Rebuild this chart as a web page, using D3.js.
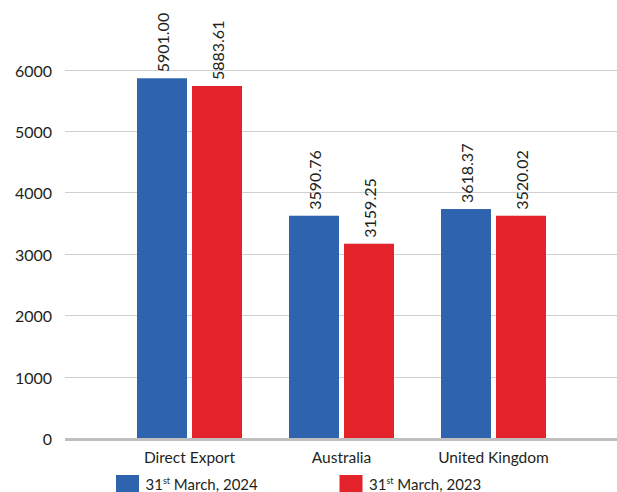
<!DOCTYPE html>
<html>
<head>
<meta charset="utf-8">
<script src="https://cdn.jsdelivr.net/npm/d3@7"></script>
<style>
  html, body { margin: 0; padding: 0; background: #fff; }
  svg { display: block; }
  text { font-family: Lato, "Open Sans", sans-serif; fill: #231f20; }
</style>
</head>
<body>
<svg id="chart" width="617" height="492"></svg>
<script>
// ---- data ----
const categories = ["Direct Export", "Australia", "United Kingdom"];
const seriesNames = ["31st March, 2024", "31st March, 2023"];
const values2024 = [5857, 3619, 3728];
const values2023 = [5731, 3163, 3619];
const labels2024 = ["5901.00", "3590.76", "3618.37"];
const labels2023 = ["5883.61", "3159.25", "3520.02"];
const yTicks = [0, 1000, 2000, 3000, 4000, 5000, 6000];
const colors = ["#2e64ad", "#e32229"];

const svg = d3.select("#chart");

const x0 = d3.scaleBand().domain(categories)
  .range([113.5, 569.5]).paddingInner(47 / 152).paddingOuter(47 / 304);
const x1 = d3.scaleBand().domain([0, 1])
  .range([0, x0.bandwidth()]).paddingInner(5 / 55);
const y = d3.scaleLinear().domain([0, 6000]).range([438, 69.5]);

// gridlines
svg.append("g").selectAll("line")
  .data(yTicks.filter(d => d > 0))
  .join("line")
  .attr("x1", 65).attr("x2", 617)
  .attr("y1", d => Math.round(y(d)) + 0.5).attr("y2", d => Math.round(y(d)) + 0.5)
  .attr("stroke", "#cfcfcf").attr("stroke-width", 1);

// y tick labels
svg.append("g").selectAll("text")
  .data(yTicks)
  .join("text")
  .attr("x", 52).attr("y", d => y(d) + 1.5)
  .attr("dy", "0.35em")
  .attr("text-anchor", "end")
  .attr("font-size", 16)
  .text(d => d);

const rows = categories.map((c, i) => ({
  cat: c,
  vals: [values2024[i], values2023[i]],
  labs: [labels2024[i], labels2023[i]]
}));

const groups = svg.append("g").selectAll("g")
  .data(rows).join("g")
  .attr("transform", d => `translate(${x0(d.cat)},0)`);

groups.selectAll("rect")
  .data(d => d.vals.map((v, k) => ({ v, k })))
  .join("rect")
  .attr("x", d => x1(d.k))
  .attr("width", x1.bandwidth())
  .attr("y", d => y(d.v))
  .attr("height", d => y(0) - y(d.v))
  .attr("fill", d => colors[d.k]);

groups.selectAll("text.val")
  .data(d => d.labs.map((l, k) => ({ l, k, v: d.vals[k] })))
  .join("text")
  .attr("class", "val")
  .attr("font-size", 16)
  .attr("transform", d => `translate(${x1(d.k) + x1.bandwidth() / 2 + 1},${y(d.v) - 6}) rotate(-90)`)
  .attr("dy", "0.35em")
  .attr("text-anchor", "start")
  .text(d => d.l);

// zero axis line
svg.append("line")
  .attr("x1", 65).attr("x2", 617)
  .attr("y1", y(0) + 1.5).attr("y2", y(0) + 1.5)
  .attr("stroke", "#bfbfbf").attr("stroke-width", 3);

// category labels
svg.append("g").selectAll("text")
  .data(categories).join("text")
  .attr("x", d => x0(d) + x0.bandwidth() / 2)
  .attr("y", 463)
  .attr("text-anchor", "middle")
  .attr("font-size", 15.5)
  .text(d => d);

// legend
const legendX = [116, 339.5];
const leg = svg.append("g").selectAll("g")
  .data(seriesNames).join("g")
  .attr("transform", (d, i) => `translate(${legendX[i]},475)`);
leg.append("rect")
  .attr("width", 23).attr("height", 18)
  .attr("fill", (d, i) => colors[i]);
const lt = leg.append("text")
  .attr("x", 29.5).attr("y", 15)
  .attr("font-size", 15);
lt.each(function(d) {
  const m = d.match(/^(\d+)(st|nd|rd|th)(.*)$/);
  const t = d3.select(this);
  t.append("tspan").text(m[1]);
  t.append("tspan").attr("font-size", 9).attr("dy", -6).text(m[2]);
  t.append("tspan").attr("dy", 6).text(m[3]);
});
</script>
</body>
</html>
